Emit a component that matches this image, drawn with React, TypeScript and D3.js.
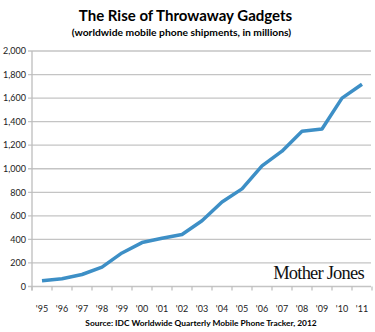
import React from "react";
import * as d3 from "d3";

const years = ["'95","'96","'97","'98","'99","'00","'01","'02","'03","'04","'05","'06","'07","'08","'09","'10","'11"];
const shipments = [48, 66, 102, 165, 285, 373, 410, 442, 558, 718, 829, 1025, 1149, 1318, 1338, 1600, 1718];
const yTicks = [0, 200, 400, 600, 800, 1000, 1200, 1400, 1600, 1800, 2000];

const W = 375, H = 332;
const left = 32, right = 372, top = 51, bottom = 286.5;

export default function App() {
  const x = d3.scaleBand<string>().domain(years).range([left, right]);
  const y = d3.scaleLinear().domain([0, 2000]).range([bottom, top]);
  const line = d3.line<number>()
    .x((_, i) => (x(years[i]) as number) + x.bandwidth() / 2)
    .y((d) => y(d))
    .curve(d3.curveLinear);
  const fmt = d3.format(",");
  const font = "Lato, 'Open Sans', sans-serif";
  return (
    <svg width={W} height={H} style={{ position: "absolute", left: 0, top: 0, background: "#fff" }}>
      <text x={185.5} y={21} textAnchor="middle" fontFamily={font} fontWeight={700} fontSize={15} fill="#000">The Rise of Throwaway Gadgets</text>
      <text x={181.5} y={36} textAnchor="middle" fontFamily={font} fontWeight={700} fontSize={10.3} fill="#000">(worldwide mobile phone shipments, in millions)</text>
      {yTicks.map((t) => (
        <g key={t}>
          <line x1={left - 4} x2={right - 1} y1={y(t)} y2={y(t)} stroke="#c4c4c4" strokeWidth={1.3} />
          <text x={26} y={y(t) + 3.2} textAnchor="end" fontFamily={font} fontSize={9} fill="#222">{fmt(t)}</text>
        </g>
      ))}
      <line x1={left} x2={left} y1={top} y2={bottom + 4} stroke="#bdbdbd" strokeWidth={1.3} />
      {years.concat(["end"]).map((yr, i) => {
        const xx = left + i * x.step();
        return <line key={yr} x1={xx} x2={xx} y1={bottom} y2={bottom + 4} stroke="#bdbdbd" strokeWidth={1.2} />;
      })}
      {years.map((yr) => (
        <text key={yr} x={(x(yr) as number) + x.bandwidth() / 2} y={312} textAnchor="middle" fontFamily={font} fontSize={9} fill="#222">{yr}</text>
      ))}
      <path d={line(shipments) as string} fill="none" stroke="#3d8fc6" strokeWidth={3.5} strokeLinejoin="round" strokeLinecap="butt" />
      <text x={318.5} y={279} textAnchor="middle" fontFamily="'Liberation Serif', 'DejaVu Serif', serif" fontSize={18.5} letterSpacing={-0.8} fill="#111">Mother Jones</text>
      <text x={201} y={326} textAnchor="middle" fontFamily={font} fontWeight={700} fontSize={8.4} fill="#000">Source: IDC Worldwide Quarterly Mobile Phone Tracker, 2012</text>
    </svg>
  );
}
